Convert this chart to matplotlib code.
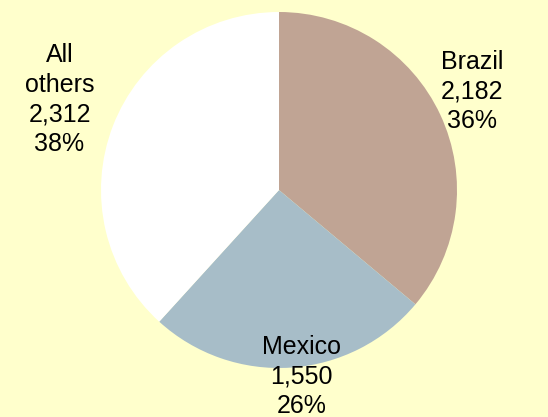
import numpy as np
import matplotlib
matplotlib.use("Agg")
import matplotlib.pyplot as plt

categories = ["Brazil", "Mexico", "All\nothers"]
values = [2182, 1550, 2312]
colors = ["#C0A494", "#A7BDC8", "#FFFFFF"]
# how far out each label sits (in pie radii) and a small angle nudge
label_dist = [1.22, 1.055, 1.333]
angle_nudge = [2.0, 3.0, -1.2]

plt.rcParams['font.family'] = ['Liberation Sans', 'DejaVu Sans']

W, H = 548, 417
cx, cy, r = 279, 190, 178

fig = plt.figure(figsize=(W / 100, H / 100), dpi=100)
fig.patch.set_facecolor("#FFFFCC")
ax = fig.add_axes([0, 0, 1, 1])
ax.set_facecolor("#FFFFCC")
ax.axis("off")

wedges, _ = ax.pie(values, colors=colors, startangle=90, counterclock=False,
                   wedgeprops=dict(linewidth=0))

total = sum(values)
for w, name, v, d, nud in zip(wedges, categories, values, label_dist, angle_nudge):
    mid = np.deg2rad((w.theta1 + w.theta2) / 2 + nud)
    pct = round(100 * v / total)
    ax.text(d * np.cos(mid), d * np.sin(mid), f"{name}\n{v:,}\n{pct}%",
            ha="center", va="center", fontsize=18, linespacing=1.3)

ax.set_xlim(-cx / r, (W - cx) / r)
ax.set_ylim((cy - H) / r, cy / r)
ax.set_aspect("equal")

plt.savefig("out.png", dpi=100, facecolor=fig.get_facecolor())
